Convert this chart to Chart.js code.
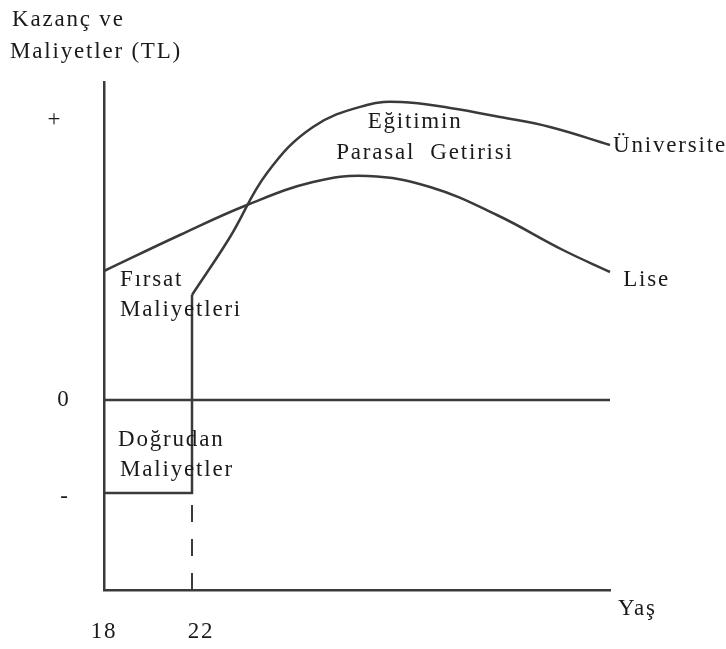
<!DOCTYPE html>
<html><head><meta charset="utf-8">
<script src="https://cdn.jsdelivr.net/npm/chart.js@4"></script>
<style>html,body{margin:0;padding:0;background:#fff}#wrap{width:726px;height:649px}</style>
</head><body><div id="wrap"><canvas id="c" width="726" height="649"></canvas></div>
<script>
// ---- data ----
const liseAges = [18, 21.45, 24.5, 27.5, 30, 32.82, 35.86, 38.86, 41];
const liseValues = [12.9, 16.5, 19.5, 21.8, 22.4, 21.3, 18.5, 15.0, 12.8];
const uniAges = [22, 23.73, 25.41, 27.5, 29.95, 31.5, 33.73, 36, 38.27, 41];
const uniValues = [10.5, 16.3, 22.7, 27.3, 29.5, 29.8, 29.2, 28.3, 27.3, 25.5];
const directAges = [18, 22, 22];
const directValues = [-9.3, -9.3, 10.5];
const dashedAges = [22, 22];
const dashedValues = [-19, -9.3];
const zeroAges = [18, 41];
const zeroValues = [0, 0];
const xTickValues = [18, 22];
const xTickLabels = ['18', '22'];
const yTickValues = [28, 0, -9.7];
const yTickLabels = ['+', '0', '-'];

const pts = (xs, ys) => xs.map((x, i) => ({x, y: ys[i]}));
const LINE = '#3a3a3a';
const FONT = '23px "Liberation Serif", "Times New Roman", serif';

// text annotations (position in data units)
const notes = [
  {t: 'Kazanç ve', x: 13.82, y: 38.0, a: 'left'},
  {t: 'Maliyetler (TL)', x: 13.73, y: 34.8, a: 'left'},
  {t: 'Fırsat', x: 18.73, y: 12.0, a: 'left'},
  {t: 'Maliyetleri', x: 18.73, y: 9.0, a: 'left'},
  {t: 'Doğrudan', x: 18.64, y: -4.0, a: 'left'},
  {t: 'Maliyetler', x: 18.73, y: -7.0, a: 'left'},
  {t: 'Eğitimin', x: 32.14, y: 27.8, a: 'center'},
  {t: 'Parasal  Getirisi', x: 32.59, y: 24.7, a: 'center'},
  {t: 'Üniversite', x: 41.14, y: 25.4, a: 'left'},
  {t: 'Lise', x: 41.6, y: 12.0, a: 'left'},
  {t: 'Yaş', x: 41.36, y: -20.9, a: 'left'}
];

const textPlugin = {
  id: 'texts',
  afterDraw(chart) {
    const {ctx, scales: {x, y}} = chart;
    ctx.save();
    ctx.fillStyle = '#1a1a1a';
    ctx.font = FONT;
    ctx.textBaseline = 'middle';
    try { ctx.letterSpacing = '1.8px'; } catch (e) {}
    notes.forEach(n => {
      ctx.textAlign = n.a;
      ctx.fillText(n.t, x.getPixelForValue(n.x), y.getPixelForValue(n.y));
    });
    // x tick labels
    ctx.textAlign = 'center';
    xTickValues.forEach((v, i) => {
      const off = v === 22 ? 9 : 0;
      ctx.fillText(xTickLabels[i], x.getPixelForValue(v) + off, y.bottom + 42);
    });
    // y tick labels
    const yOff = [-49, -40, -39];
    yTickValues.forEach((v, i) => {
      ctx.fillText(yTickLabels[i], x.left + yOff[i], y.getPixelForValue(v));
    });
    ctx.restore();
  }
};

const base = {borderColor: LINE, borderWidth: 2.5, pointRadius: 0, fill: false, clip: false};

new Chart(document.getElementById('c'), {
  type: 'line',
  data: {
    datasets: [
      {...base, label: 'Lise', data: pts(liseAges, liseValues), tension: 0.4},
      {...base, label: 'Üniversite', data: pts(uniAges, uniValues), tension: 0.4},
      {...base, label: 'Doğrudan Maliyetler', data: pts(directAges, directValues), tension: 0},
      {...base, label: 'dash', data: pts(dashedAges, dashedValues), tension: 0, borderWidth: 2, borderDash: [17, 17]},
      {...base, label: 'zero', data: pts(zeroAges, zeroValues), tension: 0}
    ]
  },
  options: {
    responsive: false,
    animation: false,
    layout: {padding: {left: 0, right: 116, top: 82, bottom: 0}},
    plugins: {legend: {display: false}, tooltip: {enabled: false}},
    scales: {
      x: {
        type: 'linear', min: 18, max: 41,
        grid: {display: false, drawTicks: false},
        border: {display: true, color: LINE, width: 2.5},
        ticks: {display: false},
        afterFit(s) { s.height = 59; }
      },
      y: {
        type: 'linear', min: -19, max: 31.8,
        grid: {display: false, drawTicks: false},
        border: {display: true, color: LINE, width: 2.5},
        ticks: {display: false},
        afterFit(s) { s.width = 104; }
      }
    }
  },
  plugins: [textPlugin]
});
</script>
</body></html>
